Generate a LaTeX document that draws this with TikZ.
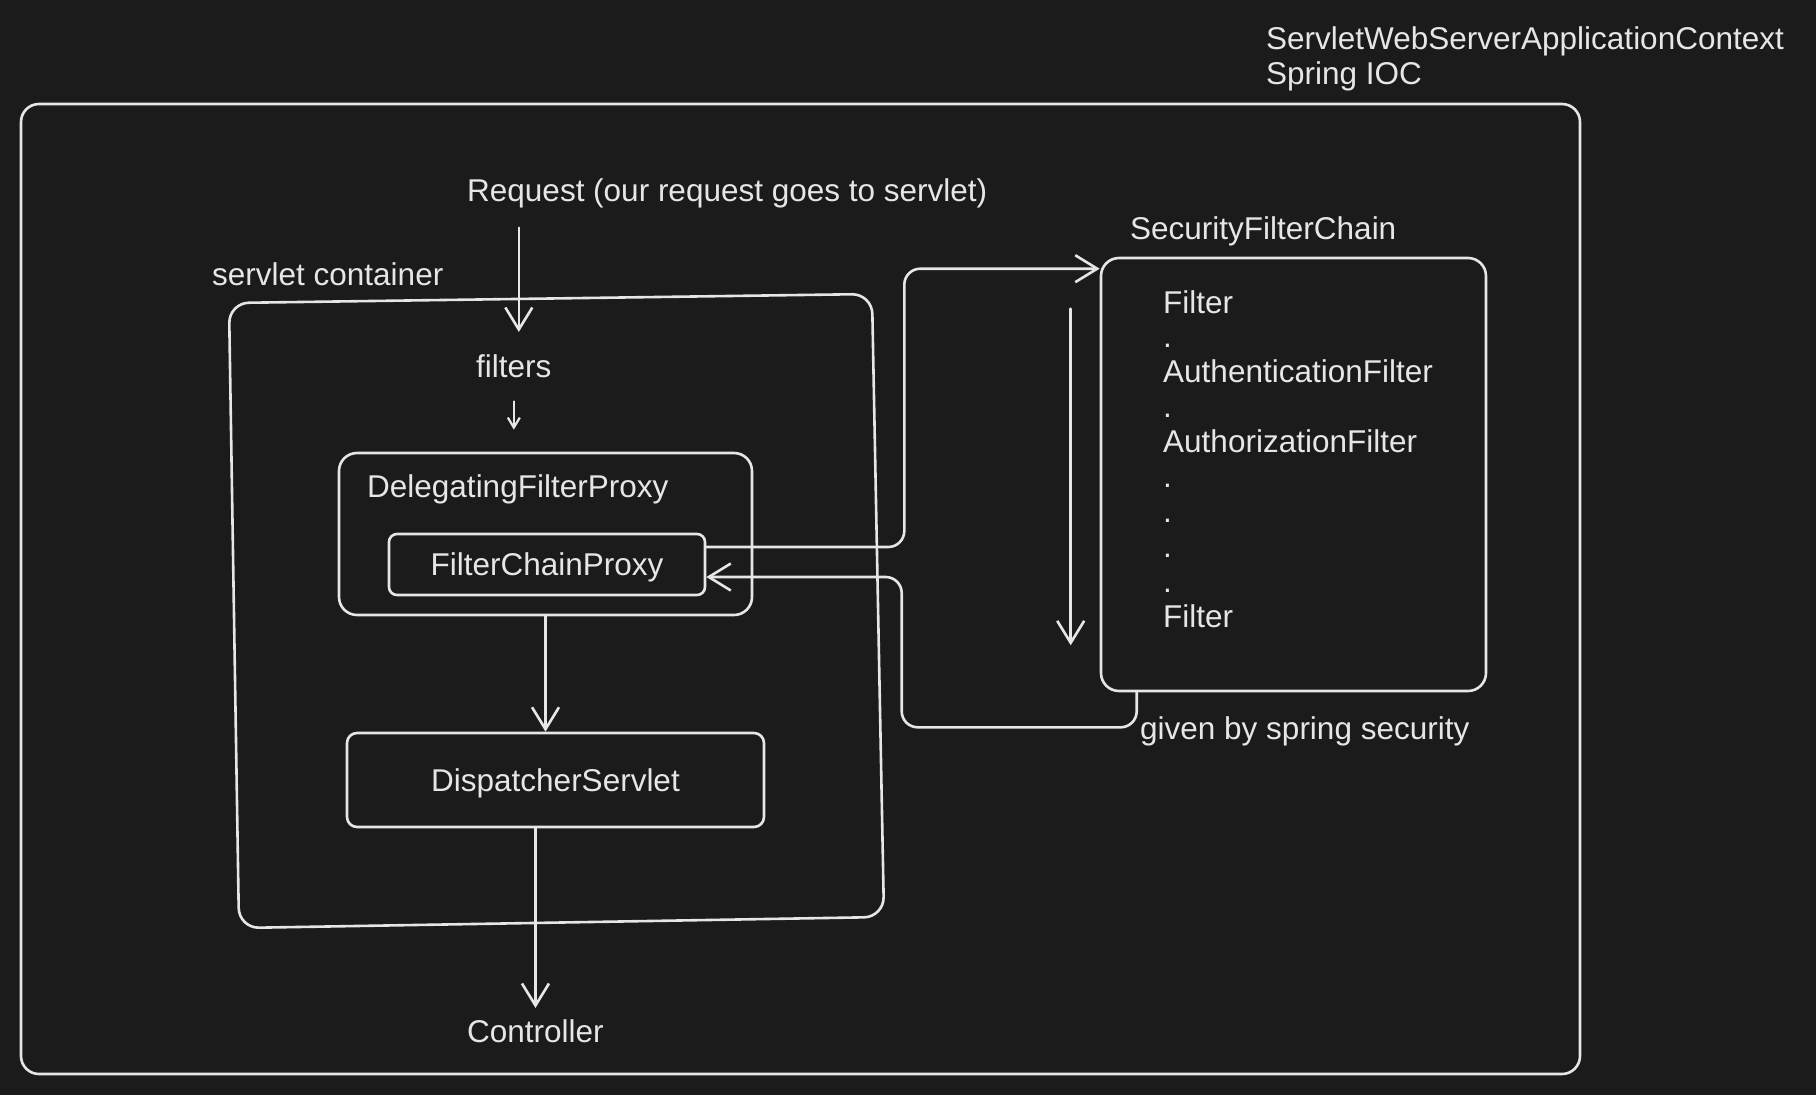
\documentclass[tikz,border=0pt]{standalone}
\usepackage{fontspec}
\setmainfont{Liberation Sans}
\usetikzlibrary{arrows.meta}
\definecolor{bg}{HTML}{1B1B1B}
\definecolor{fg}{HTML}{E6E6E6}
\begin{document}
\begin{tikzpicture}[x=1pt,y=-1pt,
  txt/.style={text=fg, font=\fontsize{31.5}{35}\selectfont, inner sep=0pt, anchor=base west},
  ctxt/.style={text=fg, font=\fontsize{31.5}{35}\selectfont, text height=22.5pt, text depth=0pt},
  box/.style={draw=fg, line width=2.6pt, rounded corners=18pt, inner sep=0pt},
  arr/.style={draw=fg, line width=2.6pt, line cap=round, -{Straight Barb[length=22pt,width=27pt]}},
  sarr/.style={draw=fg, line width=2.2pt, line cap=round, -{Straight Barb[length=10pt,width=12pt]}},
  conn/.style={arr, rounded corners=16pt}]
\fill[bg] (0,0) rectangle (1816,1095);
\useasboundingbox (0,0) rectangle (1816,1095);

% title
\node[txt] (t1) at (1266,49) {ServletWebServerApplicationContext};
\node[txt] (t2) at (1266,84) {Spring IOC};

% outer box
\node[box, minimum width=1559pt, minimum height=970pt] (outer) at (800.5,589) {};

% request
\node[txt] (req) at (467,201) {Request (our request goes to servlet)};

% servlet container
\node[txt] (scl) at (212,285) {servlet container};
\draw[fg, line width=2.6pt, rounded corners=20pt]
  (550,298.5) -- (872,294) -- (884,917) -- (239,928) -- (229,303) -- cycle;

\node[txt] (filt) at (476,377) {filters};

% delegating filter proxy
\node[box, minimum width=413pt, minimum height=162pt] (dfp) at (545.5,534) {};
\node[txt] (dfpl) at (367,497) {DelegatingFilterProxy};
\node[box, rounded corners=8pt, minimum width=316pt, minimum height=61pt, ctxt] (fcp) at (547,564.5) {FilterChainProxy};

% dispatcher
\node[box, rounded corners=10pt, minimum width=417pt, minimum height=94pt, ctxt] (disp) at (555.5,780) {DispatcherServlet};
\node[txt] (ctrl) at (467,1042) {Controller};

% security filter chain
\node[txt] (sfcl) at (1130,239) {SecurityFilterChain};
\node[box, minimum width=385pt, minimum height=433pt] (sfc) at (1293.5,474.5) {};
\foreach \t [count=\i from 0] in {Filter,.,AuthenticationFilter,.,AuthorizationFilter,.,.,.,.,Filter}
  \node[txt] (f\i) at (1163,313+34.9*\i) {\t};
\node[txt] (given) at (1140,739) {given by spring security};

% arrows
\draw[arr] ([xshift=5pt,yshift=-20pt]req.south -| filt.north) -- ([xshift=5pt,yshift=22pt]filt.north);
\draw[sarr] ([yshift=-24pt]filt.south) -- ([yshift=22pt]filt.south |- dfp.north);
\draw[arr] (dfp.south) -- (dfp.south |- disp.north);
\draw[arr] (disp.south -| ctrl.north) -- ([yshift=11pt]ctrl.north);
\draw[arr] ([xshift=-29pt,yshift=-52pt]sfc.north west) -- ([xshift=-29pt,yshift=47pt]sfc.south west);

\draw[conn] ([yshift=17.5pt]fcp.east) -- ++(198,0) |- ([yshift=-12pt]sfc.north west);
\draw[conn] ([xshift=37pt]sfc.south west) -- ++(0,35) -- ++(-235,0) |- ([yshift=-12.5pt]fcp.east);
\end{tikzpicture}
\end{document}
